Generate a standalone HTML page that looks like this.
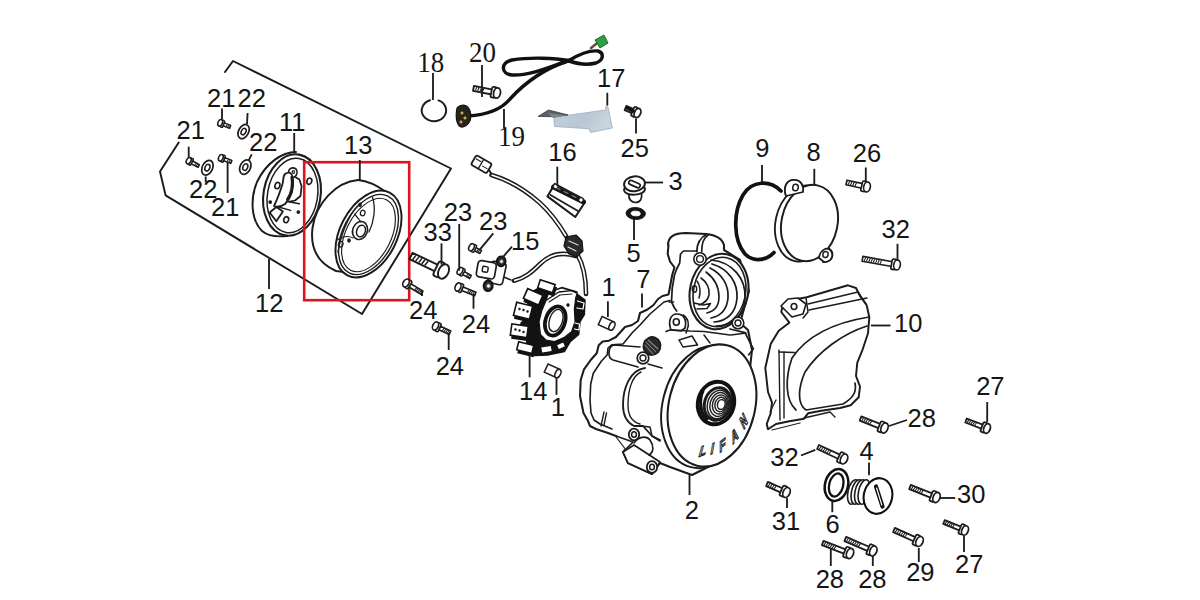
<!DOCTYPE html>
<html><head><meta charset="utf-8"><style>
html,body{margin:0;padding:0;background:#fff;overflow:hidden}
svg{display:block}
</style></head><body>
<svg width="1200" height="600" viewBox="0 0 1200 600">
<rect x="0" y="0" width="1200" height="600" fill="#fff"/>
<path d="M225,72 L233,61 L451,168.5 L362,314 L165.6,195.4 L160,171.5 L178.7,142.5" fill="none" stroke="#1c1c1c" stroke-width="1.95" stroke-linejoin="round" stroke-linecap="round" />
<path d="M230.7,125.4 L223.8,122.6 L222.6,125.5 L229.5,128.4 Z" fill="#fff" stroke="#1c1c1c" stroke-width="1.54" stroke-linejoin="round"/>
<line x1="229.1" y1="125.2" x2="227.6" y2="127.1" stroke="#1c1c1c" stroke-width="1.05"/>
<line x1="227.4" y1="124.5" x2="225.9" y2="126.5" stroke="#1c1c1c" stroke-width="1.05"/>
<rect x="220.8" y="120.1" width="3.0" height="7.1" rx="1.1" transform="rotate(-157.5 222.3 123.7)" fill="#fff" stroke="#1c1c1c" stroke-width="1.54"/>
<ellipse cx="220.2" cy="122.8" rx="2.2" ry="3.4" transform="rotate(-157.5 220.2 122.8)" fill="#fff" stroke="#1c1c1c" stroke-width="1.54"/>
<path d="M199.4,164.6 L192.3,160.8 L190.8,163.6 L198.0,167.4 Z" fill="#fff" stroke="#1c1c1c" stroke-width="1.54" stroke-linejoin="round"/>
<line x1="197.8" y1="164.2" x2="196.2" y2="166.0" stroke="#1c1c1c" stroke-width="1.05"/>
<line x1="196.2" y1="163.3" x2="194.6" y2="165.2" stroke="#1c1c1c" stroke-width="1.05"/>
<rect x="189.2" y="158.2" width="3.0" height="7.1" rx="1.1" transform="rotate(-152.1 190.7 161.7)" fill="#fff" stroke="#1c1c1c" stroke-width="1.54"/>
<ellipse cx="188.7" cy="160.7" rx="2.2" ry="3.4" transform="rotate(-152.1 188.7 160.7)" fill="#fff" stroke="#1c1c1c" stroke-width="1.54"/>
<path d="M231.9,160.4 L224.4,157.5 L223.2,160.5 L230.7,163.4 Z" fill="#fff" stroke="#1c1c1c" stroke-width="1.54" stroke-linejoin="round"/>
<line x1="230.2" y1="160.2" x2="228.8" y2="162.2" stroke="#1c1c1c" stroke-width="1.05"/>
<line x1="228.6" y1="159.5" x2="227.1" y2="161.5" stroke="#1c1c1c" stroke-width="1.05"/>
<rect x="221.4" y="155.1" width="3.0" height="7.1" rx="1.1" transform="rotate(-158.7 222.9 158.6)" fill="#fff" stroke="#1c1c1c" stroke-width="1.54"/>
<ellipse cx="220.8" cy="157.8" rx="2.2" ry="3.4" transform="rotate(-158.7 220.8 157.8)" fill="#fff" stroke="#1c1c1c" stroke-width="1.54"/>
<ellipse cx="243.6" cy="131.6" rx="5.0" ry="7.6" transform="rotate(28 243.6 131.6)" fill="#fff" stroke="#1c1c1c" stroke-width="1.72"/>
<ellipse cx="243.6" cy="131.6" rx="2.25" ry="3.42" transform="rotate(28 243.6 131.6)" fill="none" stroke="#1c1c1c" stroke-width="1.49"/>
<ellipse cx="207.4" cy="167.7" rx="5.2" ry="7.8" transform="rotate(25 207.4 167.7)" fill="#fff" stroke="#1c1c1c" stroke-width="1.72"/>
<ellipse cx="207.4" cy="167.7" rx="2.3400000000000003" ry="3.51" transform="rotate(25 207.4 167.7)" fill="none" stroke="#1c1c1c" stroke-width="1.49"/>
<ellipse cx="245.3" cy="167.1" rx="5.2" ry="7.6" transform="rotate(25 245.3 167.1)" fill="#fff" stroke="#1c1c1c" stroke-width="1.72"/>
<ellipse cx="245.3" cy="167.1" rx="2.3400000000000003" ry="3.42" transform="rotate(25 245.3 167.1)" fill="none" stroke="#1c1c1c" stroke-width="1.49"/>
<path d="M296,152 C282,152 266,163 257,182 C250,199 251,220 262,231 C268,236 278,237 287,236" fill="#fff" stroke="#1c1c1c" stroke-width="1.95" stroke-linejoin="round" stroke-linecap="round" />
<ellipse cx="292" cy="195" rx="28.5" ry="41" transform="rotate(10 292 195)" fill="#fff" stroke="#1c1c1c" stroke-width="2.07"/>
<ellipse cx="292.5" cy="195.5" rx="25" ry="37.5" transform="rotate(10 292.5 195.5)" fill="none" stroke="#1c1c1c" stroke-width="1.49"/>
<path d="M293.9,176.3 L299.4,179.6 L301.6,186.2 L300.5,196 L295,200.5 L289.5,201.6" fill="#fff" stroke="#1c1c1c" stroke-width="1.72" stroke-linejoin="round" stroke-linecap="round" />
<path d="M290,174 C286,170 292,166 296,169 C298,172 297,176 294,177" fill="#fff" stroke="#1c1c1c" stroke-width="1.61" stroke-linejoin="round" stroke-linecap="round" />
<ellipse cx="293.3" cy="172" rx="1.2" ry="1.4" transform="rotate(0 293.3 172)" fill="none" stroke="#1c1c1c" stroke-width="1.15"/>
<path d="M285,174 C289,171 292,173 293,178 C294,188 292,197 285,204 C281,207 276,207 274,206 C277,200 280,192 282.5,184 C283.5,180 283,176 285,174 Z" fill="#fff" stroke="#1c1c1c" stroke-width="1.84" stroke-linejoin="round" stroke-linecap="round" />
<path d="M291.7,177 C293,186 291,194 287.3,199.4" fill="none" stroke="#1c1c1c" stroke-width="2.53" stroke-linejoin="round" stroke-linecap="round" />
<path d="M269.7,212.5 L276.3,207 L282.9,211.5 L276.3,221.3 Z" fill="#fff" stroke="#1c1c1c" stroke-width="1.84" stroke-linejoin="round" stroke-linecap="round" />
<path d="M278.5,207 L290.6,210.4 M287.3,201.6 L299.4,203.8" fill="none" stroke="#1c1c1c" stroke-width="1.49" stroke-linejoin="round" stroke-linecap="round" />
<ellipse cx="277.4" cy="185.6" rx="2.4" ry="3.2" transform="rotate(20 277.4 185.6)" fill="none" stroke="#1c1c1c" stroke-width="1.61"/>
<ellipse cx="286.2" cy="219.7" rx="2.4" ry="3.0" transform="rotate(20 286.2 219.7)" fill="none" stroke="#1c1c1c" stroke-width="1.61"/>
<ellipse cx="309.3" cy="181.2" rx="2.4" ry="3.2" transform="rotate(20 309.3 181.2)" fill="none" stroke="#1c1c1c" stroke-width="1.61"/>
<ellipse cx="270.2" cy="202.1" rx="1.3" ry="1.3" transform="rotate(0 270.2 202.1)" fill="#1c1c1c" stroke="#1c1c1c" stroke-width="1.15"/>
<ellipse cx="298.3" cy="212" rx="1.3" ry="1.3" transform="rotate(0 298.3 212)" fill="#1c1c1c" stroke="#1c1c1c" stroke-width="1.15"/>
<path d="M358,180 C336,182 316,203 312.5,228 C310,248 318,263 336,271 L352,273" fill="#fff" stroke="#1c1c1c" stroke-width="1.95" stroke-linejoin="round" stroke-linecap="round" />
<path d="M358,180 C368,181 378,186 386,192" fill="none" stroke="#1c1c1c" stroke-width="1.84" stroke-linejoin="round" stroke-linecap="round" />
<ellipse cx="368.5" cy="234" rx="28.5" ry="46.5" transform="rotate(27 368.5 234)" fill="#fff" stroke="#1c1c1c" stroke-width="1.95"/>
<ellipse cx="368.5" cy="234.5" rx="25.5" ry="43" transform="rotate(27 368.5 234.5)" fill="none" stroke="#1c1c1c" stroke-width="1.38"/>
<ellipse cx="368.5" cy="235" rx="22.5" ry="39.5" transform="rotate(27 368.5 235)" fill="none" stroke="#1c1c1c" stroke-width="1.15"/>
<path d="M361,203 C352,210 342,228 338,252" fill="none" stroke="#1c1c1c" stroke-width="1.38" stroke-linejoin="round" stroke-linecap="round" />
<path d="M372.5,197.5 C376,208 374,222 369,232" fill="none" stroke="#1c1c1c" stroke-width="1.26" stroke-linejoin="round" stroke-linecap="round" />
<ellipse cx="360" cy="230.5" rx="7.3" ry="9.2" transform="rotate(20 360 230.5)" fill="#fff" stroke="#1c1c1c" stroke-width="1.61"/>
<ellipse cx="361" cy="231" rx="4.3" ry="6" transform="rotate(20 361 231)" fill="none" stroke="#1c1c1c" stroke-width="1.49"/>
<ellipse cx="362.7" cy="213" rx="2.3" ry="2.8" transform="rotate(15 362.7 213)" fill="none" stroke="#1c1c1c" stroke-width="1.26"/>
<ellipse cx="340.7" cy="244.2" rx="2.3" ry="2.8" transform="rotate(15 340.7 244.2)" fill="none" stroke="#1c1c1c" stroke-width="1.26"/>
<ellipse cx="360" cy="204.8" rx="1.4" ry="1.8" transform="rotate(0 360 204.8)" fill="#1c1c1c" stroke="#1c1c1c" stroke-width="0.92"/>
<ellipse cx="349" cy="240.5" rx="1.4" ry="1.8" transform="rotate(0 349 240.5)" fill="#1c1c1c" stroke="#1c1c1c" stroke-width="0.92"/>
<path d="M354.5,214 C358,218 360,221 361,222" fill="none" stroke="#1c1c1c" stroke-width="1.15" stroke-linejoin="round" stroke-linecap="round" />
<path d="M337,240 C343,236 349,236 353,238" fill="none" stroke="#1c1c1c" stroke-width="1.15" stroke-linejoin="round" stroke-linecap="round" />
<rect x="304.2" y="162.2" width="105" height="138" fill="none" stroke="#d8161c" stroke-width="2.6"/>
<path d="M430,100.2 A12.2,10.8 0 1 0 438.5,100.4" fill="none" stroke="#1c1c1c" stroke-width="1.95" stroke-linejoin="round" stroke-linecap="round" />
<path d="M473.0,90.8 L491.7,94.5 L492.6,89.6 L474.0,85.8 Z" fill="#fff" stroke="#1c1c1c" stroke-width="1.79" stroke-linejoin="round"/>
<line x1="475.3" y1="90.6" x2="476.8" y2="87.0" stroke="#1c1c1c" stroke-width="1.05"/>
<line x1="477.6" y1="91.0" x2="479.2" y2="87.5" stroke="#1c1c1c" stroke-width="1.05"/>
<line x1="480.0" y1="91.5" x2="481.5" y2="88.0" stroke="#1c1c1c" stroke-width="1.05"/>
<line x1="482.3" y1="92.0" x2="483.9" y2="88.5" stroke="#1c1c1c" stroke-width="1.05"/>
<rect x="491.3" y="86.9" width="4.6" height="10.8" rx="1.6" transform="rotate(11.3 493.7 92.3)" fill="#fff" stroke="#1c1c1c" stroke-width="1.79"/>
<ellipse cx="497.0" cy="93.0" rx="3.4" ry="5.2" transform="rotate(11.3 497.0 93.0)" fill="#fff" stroke="#1c1c1c" stroke-width="1.79"/>
<path d="M468,116 C485,115 500,111 510,99 C520,88 540,70 569,60.5" fill="none" stroke="#111" stroke-width="3.45" stroke-linejoin="round" stroke-linecap="round" />
<path d="M569,60.5 C555,58 530,57 512,60 C500,63 501,74 512,75 C530,76 552,66 569,60.5" fill="none" stroke="#111" stroke-width="3.45" stroke-linejoin="round" stroke-linecap="round" />
<path d="M569,60.5 C578,55 588,50 598,51 C604,53 604,60 596,63 C585,66 575,63 569,61" fill="none" stroke="#111" stroke-width="3.45" stroke-linejoin="round" stroke-linecap="round" />
<path d="M591,48 L601,40" fill="none" stroke="#6b4a3a" stroke-width="2.53" stroke-linejoin="round" stroke-linecap="round" />
<path d="M595,40 L604,35 L608,43 L600,48 Z" fill="#2ea043" stroke="#1d6b2a" stroke-width="1"/>
<path d="M457,108 C462,103 468,105 470,111 C472,118 470,125 463,127 C457,128 455,118 457,108 Z" fill="#2a2418" stroke="#111" stroke-width="1.2"/>
<ellipse cx="462" cy="113" rx="1.2" ry="1.2" transform="rotate(0 462 113)" fill="#c9a75a" stroke="#c9a75a" stroke-width="0.69"/>
<ellipse cx="465" cy="118" rx="1.2" ry="1.2" transform="rotate(0 465 118)" fill="#c9a75a" stroke="#c9a75a" stroke-width="0.69"/>
<ellipse cx="461" cy="122" rx="1.2" ry="1.2" transform="rotate(0 461 122)" fill="#c9a75a" stroke="#c9a75a" stroke-width="0.69"/>
<defs><linearGradient id="g17" x1="0" y1="0" x2="1" y2="0.3"><stop offset="0" stop-color="#c4d0dc"/><stop offset="0.6" stop-color="#b9c7d4"/><stop offset="1" stop-color="#c9d4de"/></linearGradient></defs>
<path d="M553.75,117.5 L568,115.25 L605.5,110 L605.9,106.25 L608,107 L612.25,128 L590.5,132.5 L589,128.75 L554.5,126.5 Z" fill="url(#g17)" stroke="#9eacb9" stroke-width="0.8"/>
<path d="M538,116.4 L548.5,110 L568,114.9 L553.75,116.75 Z" fill="#5a5f66" stroke="#3a3f46" stroke-width="0.8"/>
<path d="M548,113 L566,115.5 L553,118 Z" fill="#7d858e"/>
<path d="M624.6,110.1 L632.5,113.3 L634.2,109.2 L626.4,105.9 Z" fill="#fff" stroke="#1c1c1c" stroke-width="1.79" stroke-linejoin="round"/>
<rect x="632.5" y="106.9" width="4.2" height="9.8" rx="1.5" transform="rotate(22.6 634.6 111.8)" fill="#fff" stroke="#1c1c1c" stroke-width="1.79"/>
<ellipse cx="637.5" cy="113.0" rx="3.1" ry="4.8" transform="rotate(22.6 637.5 113.0)" fill="#fff" stroke="#1c1c1c" stroke-width="1.79"/>
<path d="M627,108 L633,111" fill="none" stroke="#111" stroke-width="3.22" stroke-linejoin="round" stroke-linecap="round" />
<path d="M629,193 C628,200 632,202.5 635.5,202.5 C640,202.5 642.5,199 641.5,193" fill="#fff" stroke="#1c1c1c" stroke-width="1.72" stroke-linejoin="round" stroke-linecap="round" />
<ellipse cx="634.5" cy="189.5" rx="10.5" ry="5.2" transform="rotate(-3 634.5 189.5)" fill="#fff" stroke="#1c1c1c" stroke-width="1.84"/>
<ellipse cx="634.5" cy="183.8" rx="10.5" ry="7.4" transform="rotate(-6 634.5 183.8)" fill="#fff" stroke="#1c1c1c" stroke-width="1.95"/>
<rect x="628.5" y="182" width="12" height="4.2" rx="2" transform="rotate(24 634.5 184)" fill="#fff" stroke="#1c1c1c" stroke-width="1.7"/>
<ellipse cx="635.7" cy="213.5" rx="9.7" ry="6.0" transform="rotate(3 635.7 213.5)" fill="#141414" stroke="#141414" stroke-width="0.92"/>
<ellipse cx="635.7" cy="213.5" rx="4.6" ry="2.3" transform="rotate(3 635.7 213.5)" fill="#fff" stroke="#fff" stroke-width="0.92"/>
<path d="M554.7,183.9 L582.6,198.6 L584.9,202.3 L575.3,217 L547.4,196.4 Z" fill="#fff" stroke="#1c1c1c" stroke-width="2.07" stroke-linejoin="round" stroke-linecap="round" />
<path d="M553.5,187 L583.5,202" fill="none" stroke="#161616" stroke-width="4.83" stroke-linejoin="round" stroke-linecap="round" />
<path d="M556,187.5 L560,189.5 M564,191.5 L568,193.5 M572,195.5 L576,197.5" fill="none" stroke="#888" stroke-width="1.03" stroke-linejoin="round" stroke-linecap="round" />
<ellipse cx="555.5" cy="186.5" rx="1.4" ry="1.4" transform="rotate(0 555.5 186.5)" fill="#fff" stroke="#fff" stroke-width="0.57"/>
<ellipse cx="581" cy="200" rx="1.4" ry="1.4" transform="rotate(0 581 200)" fill="#fff" stroke="#fff" stroke-width="0.57"/>
<path d="M550.5,195 L578,211" fill="none" stroke="#1c1c1c" stroke-width="1.72" stroke-linejoin="round" stroke-linecap="round" />
<g transform="rotate(30 481 164)"><rect x="472.5" y="158.5" width="18" height="11" rx="2" fill="#fff" stroke="#1c1c1c" stroke-width="1.8"/><line x1="481" y1="158.5" x2="481" y2="169.5" stroke="#1c1c1c" stroke-width="1.4"/><line x1="474" y1="162" x2="480" y2="162" stroke="#1c1c1c" stroke-width="1.1"/><line x1="483" y1="165" x2="489" y2="165" stroke="#1c1c1c" stroke-width="1.1"/></g>
<path d="M489,170 L492,175" fill="none" stroke="#1c1c1c" stroke-width="1.84" stroke-linejoin="round" stroke-linecap="round" />
<path d="M491.5,175 C505,179 522,187 540,203 C552,214 560,226 566,236" fill="none" stroke="#1c1c1c" stroke-width="4.6" stroke-linecap="round"/>
<path d="M491.5,175 C505,179 522,187 540,203 C552,214 560,226 566,236" fill="none" stroke="#fff" stroke-width="1.7"/>
<path d="M577,254 C582,262 586,272 586,294" fill="none" stroke="#1c1c1c" stroke-width="4.6" stroke-linecap="round"/>
<path d="M577,254 C582,262 586,272 586,294" fill="none" stroke="#fff" stroke-width="1.7"/>
<path d="M514,280.7 C525,278 532,272 540,264 C548,256 560,251 576,256" fill="none" stroke="#1c1c1c" stroke-width="4.6" stroke-linecap="round"/>
<path d="M514,280.7 C525,278 532,272 540,264 C548,256 560,251 576,256" fill="none" stroke="#fff" stroke-width="1.7"/>
<path d="M566,237 L576,235 L582,241 L583,251 L576,257 L569,254 L564,246 Z" fill="#2a2a2a" stroke="#111" stroke-width="1.2" stroke-linejoin="round"/>
<path d="M569,241 L578,245 M568,247 L576,251" fill="none" stroke="#ddd" stroke-width="1.15" stroke-linejoin="round" stroke-linecap="round" />
<path d="M503.3,276.7 L511,280" fill="none" stroke="#1c1c1c" stroke-width="1.49" stroke-linejoin="round" stroke-linecap="round" />
<rect x="489.5" y="262" width="15" height="22" rx="3" transform="rotate(12 497 273)" fill="#fff" stroke="#1c1c1c" stroke-width="1.6"/>
<ellipse cx="501.2" cy="261.3" rx="4.4" ry="5" transform="rotate(10 501.2 261.3)" fill="#2a2a2a" stroke="#111" stroke-width="1.84"/>
<ellipse cx="501.5" cy="261.5" rx="1.6" ry="1.8" transform="rotate(0 501.5 261.5)" fill="#fff" stroke="#777" stroke-width="0.92"/>
<ellipse cx="488.2" cy="285.8" rx="4.6" ry="5.3" transform="rotate(10 488.2 285.8)" fill="#2a2a2a" stroke="#111" stroke-width="1.84"/>
<ellipse cx="488.5" cy="286" rx="1.8" ry="2" transform="rotate(0 488.5 286)" fill="#fff" stroke="#777" stroke-width="0.92"/>
<rect x="477" y="261.5" width="18.5" height="16.5" rx="3.5" transform="rotate(10 486 270)" fill="#fff" stroke="#1c1c1c" stroke-width="1.7"/>
<rect x="482.5" y="266.5" width="5.5" height="5.5" rx="1" transform="rotate(10 485 269)" fill="#fff" stroke="#1c1c1c" stroke-width="1.5"/>
<path d="M471.3,275.5 L464.0,271.3 L462.3,274.3 L469.7,278.5 Z" fill="#fff" stroke="#1c1c1c" stroke-width="1.54" stroke-linejoin="round"/>
<line x1="469.7" y1="275.1" x2="467.9" y2="277.0" stroke="#1c1c1c" stroke-width="1.05"/>
<line x1="468.2" y1="274.2" x2="466.4" y2="276.1" stroke="#1c1c1c" stroke-width="1.05"/>
<rect x="460.5" y="268.3" width="3.4" height="7.8" rx="1.2" transform="rotate(-150.3 462.2 272.2)" fill="#fff" stroke="#1c1c1c" stroke-width="1.54"/>
<ellipse cx="460.0" cy="271.0" rx="2.5" ry="3.8" transform="rotate(-150.3 460.0 271.0)" fill="#fff" stroke="#1c1c1c" stroke-width="1.54"/>
<path d="M481.5,250.5 L475.5,247.4 L473.9,250.5 L479.9,253.5 Z" fill="#fff" stroke="#1c1c1c" stroke-width="1.54" stroke-linejoin="round"/>
<line x1="479.8" y1="250.1" x2="478.1" y2="252.1" stroke="#1c1c1c" stroke-width="1.05"/>
<line x1="478.2" y1="249.3" x2="476.5" y2="251.3" stroke="#1c1c1c" stroke-width="1.05"/>
<rect x="472.0" y="244.5" width="3.4" height="7.8" rx="1.2" transform="rotate(-152.9 473.7 248.4)" fill="#fff" stroke="#1c1c1c" stroke-width="1.54"/>
<ellipse cx="471.5" cy="247.3" rx="2.5" ry="3.8" transform="rotate(-152.9 471.5 247.3)" fill="#fff" stroke="#1c1c1c" stroke-width="1.54"/>
<path d="M409.5,259.2 L435.5,271.6 L438.5,265.2 L412.5,252.8 Z" fill="#fff" stroke="#1c1c1c" stroke-width="1.92" stroke-linejoin="round"/>
<line x1="412.6" y1="259.7" x2="415.9" y2="255.4" stroke="#1c1c1c" stroke-width="1.5"/>
<line x1="415.6" y1="261.1" x2="419.0" y2="256.9" stroke="#1c1c1c" stroke-width="1.5"/>
<line x1="418.7" y1="262.6" x2="422.0" y2="258.3" stroke="#1c1c1c" stroke-width="1.5"/>
<line x1="421.7" y1="264.0" x2="425.0" y2="259.8" stroke="#1c1c1c" stroke-width="1.5"/>
<line x1="424.7" y1="265.5" x2="428.1" y2="261.2" stroke="#1c1c1c" stroke-width="1.5"/>
<rect x="435.7" y="261.5" width="6.7" height="15.7" rx="2.4" transform="rotate(25.5 439.0 269.4)" fill="#fff" stroke="#1c1c1c" stroke-width="1.92"/>
<ellipse cx="443.5" cy="271.5" rx="5.0" ry="7.6" transform="rotate(25.5 443.5 271.5)" fill="#fff" stroke="#1c1c1c" stroke-width="1.92"/>
<path d="M423.0,291.1 L410.4,283.5 L408.5,286.7 L421.0,294.3 Z" fill="#fff" stroke="#1c1c1c" stroke-width="1.66" stroke-linejoin="round"/>
<line x1="421.3" y1="290.6" x2="419.3" y2="292.7" stroke="#1c1c1c" stroke-width="1.05"/>
<line x1="419.8" y1="289.7" x2="417.8" y2="291.8" stroke="#1c1c1c" stroke-width="1.05"/>
<line x1="418.2" y1="288.7" x2="416.2" y2="290.8" stroke="#1c1c1c" stroke-width="1.05"/>
<line x1="416.7" y1="287.8" x2="414.6" y2="289.9" stroke="#1c1c1c" stroke-width="1.05"/>
<rect x="406.5" y="280.0" width="3.8" height="8.8" rx="1.3" transform="rotate(-148.8 408.4 284.4)" fill="#fff" stroke="#1c1c1c" stroke-width="1.66"/>
<ellipse cx="406.0" cy="283.0" rx="2.8" ry="4.3" transform="rotate(-148.8 406.0 283.0)" fill="#fff" stroke="#1c1c1c" stroke-width="1.66"/>
<path d="M476.0,292.2 L462.5,286.8 L461.0,290.3 L474.6,295.8 Z" fill="#fff" stroke="#1c1c1c" stroke-width="1.66" stroke-linejoin="round"/>
<line x1="474.3" y1="292.1" x2="472.7" y2="294.5" stroke="#1c1c1c" stroke-width="1.05"/>
<line x1="472.6" y1="291.4" x2="471.0" y2="293.8" stroke="#1c1c1c" stroke-width="1.05"/>
<line x1="470.9" y1="290.7" x2="469.3" y2="293.1" stroke="#1c1c1c" stroke-width="1.05"/>
<line x1="469.2" y1="290.0" x2="467.6" y2="292.4" stroke="#1c1c1c" stroke-width="1.05"/>
<rect x="458.7" y="283.6" width="3.8" height="8.8" rx="1.3" transform="rotate(-158.0 460.6 288.0)" fill="#fff" stroke="#1c1c1c" stroke-width="1.66"/>
<ellipse cx="458.0" cy="287.0" rx="2.8" ry="4.3" transform="rotate(-158.0 458.0 287.0)" fill="#fff" stroke="#1c1c1c" stroke-width="1.66"/>
<path d="M450.8,331.0 L440.0,326.0 L438.4,329.4 L449.2,334.4 Z" fill="#fff" stroke="#1c1c1c" stroke-width="1.66" stroke-linejoin="round"/>
<line x1="449.1" y1="330.7" x2="447.3" y2="333.0" stroke="#1c1c1c" stroke-width="1.05"/>
<line x1="447.5" y1="330.0" x2="445.7" y2="332.3" stroke="#1c1c1c" stroke-width="1.05"/>
<line x1="445.8" y1="329.2" x2="444.0" y2="331.5" stroke="#1c1c1c" stroke-width="1.05"/>
<line x1="444.1" y1="328.4" x2="442.4" y2="330.7" stroke="#1c1c1c" stroke-width="1.05"/>
<rect x="436.1" y="322.8" width="3.8" height="8.8" rx="1.3" transform="rotate(-155.2 438.0 327.2)" fill="#fff" stroke="#1c1c1c" stroke-width="1.66"/>
<ellipse cx="435.5" cy="326.0" rx="2.8" ry="4.3" transform="rotate(-155.2 435.5 326.0)" fill="#fff" stroke="#1c1c1c" stroke-width="1.66"/>
<path d="M530,293 L541,287 L549,291 L546,300 L541,310 L539,322 L541,335 L547,341 L556,342 L565,337 L572,332 L575,322 L575,309 L577,294 L585,300 L584.3,314.7 L580,321.7 L578.7,334.5 L570.2,341.6 L564.5,351.5 L547.5,355 L535,355.5 L524,352 L527,341 L521,337 L521,323 L527,318 L528,304 Z" fill="#121212" stroke="#121212" stroke-width="1.5" stroke-linejoin="round"/>
<path d="M546,300.5 L558.8,292 L571.6,290.6 L577.2,293.4 L575.8,297.7 L574.4,309 L575.1,321.7 L571.6,331.7 L564.5,337.3 L554.6,341.6 L546,340.2 L540.4,334.5 L539,321.7 L541.8,310.4 Z" fill="#fff" stroke="#121212" stroke-width="1.3" stroke-linejoin="round"/>
<path d="M549,302 L560,295 L572,294" fill="none" stroke="#1c1c1c" stroke-width="1.15" stroke-linejoin="round" stroke-linecap="round" />
<path d="M552,291 L561.7,287.7 L577,292" fill="none" stroke="#121212" stroke-width="1.72" stroke-linejoin="round" stroke-linecap="round" />
<ellipse cx="555.3" cy="321" rx="9.8" ry="15" transform="rotate(18 555.3 321)" fill="#fff" stroke="#121212" stroke-width="3.68"/>
<ellipse cx="556" cy="320.5" rx="6.5" ry="11.5" transform="rotate(18 556 320.5)" fill="none" stroke="#1c1c1c" stroke-width="1.38"/>
<ellipse cx="568" cy="305" rx="1.3" ry="1.5" transform="rotate(0 568 305)" fill="#121212" stroke="#1c1c1c" stroke-width="0.69"/>
<rect x="540.6" y="284.5" width="15.6" height="8.5" transform="rotate(18 546.4 286.2)" fill="#121212" stroke="#121212" stroke-width="1.4"/>
<rect x="538.6" y="282" width="15.6" height="8.5" transform="rotate(18 546.4 286.2)" fill="#fff" stroke="#121212" stroke-width="1.6"/>
<rect x="526.8" y="294.0" width="16.6" height="10.7" transform="rotate(24 533.1 296.9)" fill="#121212" stroke="#121212" stroke-width="1.4"/>
<rect x="524.8" y="291.5" width="16.6" height="10.7" transform="rotate(24 533.1 296.9)" fill="#fff" stroke="#121212" stroke-width="1.6"/>
<rect x="516.8" y="306.5" width="16.5" height="13.5" transform="rotate(14 523.0 310.8)" fill="#121212" stroke="#121212" stroke-width="1.4"/>
<rect x="514.8" y="304" width="16.5" height="13.5" transform="rotate(14 523.0 310.8)" fill="#fff" stroke="#121212" stroke-width="1.6"/>
<rect x="513" y="327.5" width="16.6" height="11.5" transform="rotate(8 519.3 330.8)" fill="#121212" stroke="#121212" stroke-width="1.4"/>
<rect x="511" y="325" width="16.6" height="11.5" transform="rotate(8 519.3 330.8)" fill="#fff" stroke="#121212" stroke-width="1.6"/>
<rect x="519.5" y="346.0" width="15.5" height="8.2" transform="rotate(14 525.2 347.6)" fill="#121212" stroke="#121212" stroke-width="1.4"/>
<rect x="517.5" y="343.5" width="15.5" height="8.2" transform="rotate(14 525.2 347.6)" fill="#fff" stroke="#121212" stroke-width="1.6"/>
<ellipse cx="519.5" cy="309" rx="1.0" ry="1.0" transform="rotate(0 519.5 309)" fill="#121212" stroke="#1c1c1c" stroke-width="0.57"/>
<ellipse cx="523.5" cy="310" rx="1.0" ry="1.0" transform="rotate(0 523.5 310)" fill="#121212" stroke="#1c1c1c" stroke-width="0.57"/>
<ellipse cx="527.5" cy="311.5" rx="1.0" ry="1.0" transform="rotate(0 527.5 311.5)" fill="#121212" stroke="#1c1c1c" stroke-width="0.57"/>
<ellipse cx="515.5" cy="329.5" rx="1.0" ry="1.0" transform="rotate(0 515.5 329.5)" fill="#121212" stroke="#1c1c1c" stroke-width="0.57"/>
<ellipse cx="519.5" cy="330.5" rx="1.0" ry="1.0" transform="rotate(0 519.5 330.5)" fill="#121212" stroke="#1c1c1c" stroke-width="0.57"/>
<ellipse cx="523.5" cy="332" rx="1.0" ry="1.0" transform="rotate(0 523.5 332)" fill="#121212" stroke="#1c1c1c" stroke-width="0.57"/>
<rect x="541" y="346" width="11" height="6.5" transform="rotate(-10 546.5 349.25)" fill="#fff" stroke="#121212" stroke-width="1.4"/>
<rect x="557" y="343" width="8" height="5.5" transform="rotate(-25 561.0 345.75)" fill="#fff" stroke="#121212" stroke-width="1.4"/>
<path d="M577.5,301 L584,303 L583,309 L577,308" fill="none" stroke="#fff" stroke-width="1.26" stroke-linejoin="round" stroke-linecap="round" />
<path d="M575,323 L579.5,324 L579,330 L574.5,329" fill="none" stroke="#fff" stroke-width="1.26" stroke-linejoin="round" stroke-linecap="round" />
<g transform="rotate(25 606.5 323.5)"><rect x="599.5" y="319.0" width="13" height="9" fill="#fff" stroke="#1c1c1c" stroke-width="1.5"/><ellipse cx="612.5" cy="323.5" rx="2.6" ry="4.5" fill="#fff" stroke="#1c1c1c" stroke-width="1.5"/></g>
<g transform="rotate(25 552.5 371)"><rect x="545.5" y="366.5" width="13" height="9" fill="#fff" stroke="#1c1c1c" stroke-width="1.5"/><ellipse cx="558.5" cy="371" rx="2.6" ry="4.5" fill="#fff" stroke="#1c1c1c" stroke-width="1.5"/></g>
<path d="M668.5,245 L667.7,254 L670,261.5 L674.5,267.5 L672.2,275 L670,287 L668.5,294.5 L662.5,296 L658,299 L653.5,305 L647.5,309.5 L640,313 L638,321 L632,325 L625,327 L616,337 L609,340.7 L602.7,341.5 L598.7,345.3 L596.7,353.3 L590.7,360 L584,369.3 L580.7,380 L580,396 L583.5,413 L588,421 L590,426 L596,429 L608,433 L616,436 L626,449 L623,452 L628,463 L652,474 L660,463 L670,467 L692,475 L706,468 L725,458 L742,440 L752,350 L748,330 L740,323 L749,291 L740,260 L724,250 L724,245 C722,238 716,235 706,234 L686,233 C676,233 668,236 668,245 Z" fill="#fff" stroke="#1c1c1c" stroke-width="2.07" stroke-linejoin="round" stroke-linecap="round" />
<path d="M697,251 L683.5,251 L680.5,254 L679.7,263 L676.7,269 L674.5,275 L672.2,288.5 L671.5,302 L674.5,308 L676.7,311" fill="none" stroke="#1c1c1c" stroke-width="1.72" stroke-linejoin="round" stroke-linecap="round" />
<path d="M670,300.5 L664,302 L657,308 L650,314 L640,325 L632,333 L623,344 L612,344.7 L608,348 L607.3,354.7 L601.3,361.3 L593.3,373.3 L590.7,384 L590,400 L591,413 L594,420 L600,424 L612,429" fill="none" stroke="#1c1c1c" stroke-width="1.61" stroke-linejoin="round" stroke-linecap="round" />
<path d="M706.7,234.2 C701,237 697,243 696.7,251.7" fill="none" stroke="#1c1c1c" stroke-width="1.72" stroke-linejoin="round" stroke-linecap="round" />
<path d="M708.3,235 C703,238 701.7,244 701.7,251.7" fill="none" stroke="#1c1c1c" stroke-width="1.61" stroke-linejoin="round" stroke-linecap="round" />
<path d="M669,302 L673.7,302" fill="none" stroke="#1c1c1c" stroke-width="1.49" stroke-linejoin="round" stroke-linecap="round" />
<ellipse cx="719" cy="291.5" rx="29" ry="38" transform="rotate(12 719 291.5)" fill="#fff" stroke="#1c1c1c" stroke-width="2.07"/>
<ellipse cx="719.5" cy="292" rx="26" ry="35" transform="rotate(12 719.5 292)" fill="none" stroke="#1c1c1c" stroke-width="1.61"/>
<path d="M711,260 C733,262 746,279 745,298 C744,315 733,326 716,326" fill="none" stroke="#1c1c1c" stroke-width="1.72" stroke-linejoin="round" stroke-linecap="round" />
<path d="M712,264 C729,269 738,283 737,298 C736,312 728,321 714,322" fill="none" stroke="#1c1c1c" stroke-width="1.72" stroke-linejoin="round" stroke-linecap="round" />
<path d="M710,268 C722,274 729,285 728,298 C727,309 721,316 711,318" fill="none" stroke="#1c1c1c" stroke-width="1.72" stroke-linejoin="round" stroke-linecap="round" />
<path d="M706,272 C714,278 719,287 719,297 C719,305 715,311 707,313" fill="none" stroke="#1c1c1c" stroke-width="1.61" stroke-linejoin="round" stroke-linecap="round" />
<path d="M701,278 C707,282 710,289 709,295 C708,300 705,303 699,305" fill="none" stroke="#1c1c1c" stroke-width="1.61" stroke-linejoin="round" stroke-linecap="round" />
<path d="M697,281 C700,285 701,292 699,298" fill="none" stroke="#1c1c1c" stroke-width="1.49" stroke-linejoin="round" stroke-linecap="round" />
<ellipse cx="694.5" cy="289" rx="2.2" ry="3.2" transform="rotate(0 694.5 289)" fill="none" stroke="#1c1c1c" stroke-width="1.38"/>
<path d="M694,303 L703,305 L710.5,303.5 L707,308.5 L697,309" fill="none" stroke="#1c1c1c" stroke-width="1.49" stroke-linejoin="round" stroke-linecap="round" />
<ellipse cx="700" cy="259" rx="6.199999999999999" ry="6.199999999999999" transform="rotate(0 700 259)" fill="#fff" stroke="#1c1c1c" stroke-width="1.61"/>
<ellipse cx="700" cy="259" rx="3.4" ry="3.4" transform="rotate(0 700 259)" fill="none" stroke="#1c1c1c" stroke-width="1.38"/>
<ellipse cx="738" cy="323" rx="5.8" ry="5.8" transform="rotate(0 738 323)" fill="#fff" stroke="#1c1c1c" stroke-width="1.61"/>
<ellipse cx="738" cy="323" rx="3" ry="3" transform="rotate(0 738 323)" fill="none" stroke="#1c1c1c" stroke-width="1.38"/>
<path d="M671,330 C668,322 670,314 677,314 C684,314 687,320 685,328 L681,331 Z" fill="#fff" stroke="#1c1c1c" stroke-width="1.72" stroke-linejoin="round" stroke-linecap="round" />
<ellipse cx="676.3" cy="322" rx="3.0" ry="3.3" transform="rotate(0 676.3 322)" fill="none" stroke="#1c1c1c" stroke-width="1.61"/>
<path d="M683,315 C688,318 690,324 687,330 L686,333" fill="none" stroke="#1c1c1c" stroke-width="1.49" stroke-linejoin="round" stroke-linecap="round" />
<path d="M666,331.5 L670.5,329.8 L690,331 L704,331.5 L730,335" fill="none" stroke="#1c1c1c" stroke-width="1.61" stroke-linejoin="round" stroke-linecap="round" />
<path d="M730,329 L745,332.7 L753.3,349 L748.7,354.8" fill="none" stroke="#1c1c1c" stroke-width="1.72" stroke-linejoin="round" stroke-linecap="round" />
<path d="M731,335 L746,333" fill="none" stroke="#1c1c1c" stroke-width="1.38" stroke-linejoin="round" stroke-linecap="round" />
<path d="M704,335 L710,343" fill="none" stroke="#1c1c1c" stroke-width="1.49" stroke-linejoin="round" stroke-linecap="round" />
<path d="M679,340 L692,336 L697.5,345 L683,347 Z" fill="#fff" stroke="#1c1c1c" stroke-width="1.49" stroke-linejoin="round" stroke-linecap="round" />
<path d="M640,347 L614,345 C608,346 607,358 613,360 L638,367" fill="#fff" stroke="#1c1c1c" stroke-width="1.72" stroke-linejoin="round" stroke-linecap="round" />
<ellipse cx="652" cy="346" rx="8.5" ry="9" transform="rotate(20 652 346)" fill="#2a2a2a" stroke="#1c1c1c" stroke-width="1.84"/>
<path d="M646,342 L656,352 M648,340 L658,349 M645,345 L653,354" fill="none" stroke="#888" stroke-width="1.03" stroke-linejoin="round" stroke-linecap="round" />
<ellipse cx="643" cy="358" rx="5.8" ry="5.8" transform="rotate(0 643 358)" fill="#fff" stroke="#1c1c1c" stroke-width="1.72"/>
<ellipse cx="643" cy="358" rx="3" ry="3" transform="rotate(0 643 358)" fill="none" stroke="#1c1c1c" stroke-width="1.38"/>
<path d="M648,364 L662,368" fill="none" stroke="#1c1c1c" stroke-width="1.49" stroke-linejoin="round" stroke-linecap="round" />
<path d="M645,368 C630,370 623,388 623,405 C623,416 628,423 634,426 L643,426 L652,436 L660,440" fill="none" stroke="#1c1c1c" stroke-width="1.84" stroke-linejoin="round" stroke-linecap="round" />
<path d="M641,372 C632,376 628,390 628,405 C628,416 632,422 640,424" fill="none" stroke="#1c1c1c" stroke-width="1.38" stroke-linejoin="round" stroke-linecap="round" />
<path d="M604,412 L601,426 M606.5,413 L604,425" fill="none" stroke="#1c1c1c" stroke-width="1.38" stroke-linejoin="round" stroke-linecap="round" />
<path d="M623,452 L634,445 L660,462 L652,474 L628,463 Z" fill="#fff" stroke="#1c1c1c" stroke-width="1.72" stroke-linejoin="round" stroke-linecap="round" />
<path d="M616,436 L633,442 L626,449" fill="#fff" stroke="#1c1c1c" stroke-width="1.61" stroke-linejoin="round" stroke-linecap="round" />
<path d="M634,443 C638,437 646,435 650,440 C654,446 654,452 649,455" fill="none" stroke="#1c1c1c" stroke-width="1.61" stroke-linejoin="round" stroke-linecap="round" />
<ellipse cx="634" cy="434.5" rx="5.2" ry="5.8" transform="rotate(0 634 434.5)" fill="#fff" stroke="#1c1c1c" stroke-width="1.84"/>
<ellipse cx="634" cy="434.5" rx="2.4" ry="2.8" transform="rotate(0 634 434.5)" fill="none" stroke="#1c1c1c" stroke-width="1.49"/>
<ellipse cx="652" cy="467" rx="5.2" ry="5.8" transform="rotate(0 652 467)" fill="#fff" stroke="#1c1c1c" stroke-width="1.84"/>
<ellipse cx="652" cy="467" rx="2.4" ry="2.8" transform="rotate(0 652 467)" fill="none" stroke="#1c1c1c" stroke-width="1.49"/>
<path d="M641,426 L650,427 L652,436 L660,441" fill="none" stroke="#1c1c1c" stroke-width="1.49" stroke-linejoin="round" stroke-linecap="round" />
<ellipse cx="706" cy="407" rx="43.5" ry="62" transform="rotate(14 706 407)" fill="#fff" stroke="#1c1c1c" stroke-width="1.95"/>
<ellipse cx="712" cy="405.5" rx="43" ry="62" transform="rotate(14 712 405.5)" fill="#fff" stroke="#1c1c1c" stroke-width="2.07"/>
<ellipse cx="716" cy="403" rx="18" ry="21.5" transform="rotate(15 716 403)" fill="#fff" stroke="#111" stroke-width="3.91"/>
<ellipse cx="717.5" cy="404" rx="13" ry="16.5" transform="rotate(15 717.5 404)" fill="#fff" stroke="#1a1a1a" stroke-width="2.99"/>
<ellipse cx="718.5" cy="404.5" rx="11.0" ry="14.5" transform="rotate(15 718.5 404.5)" fill="none" stroke="#222" stroke-width="1.49"/>
<ellipse cx="719.2" cy="404.5" rx="9.2" ry="12.1" transform="rotate(15 719.2 404.5)" fill="none" stroke="#222" stroke-width="1.49"/>
<ellipse cx="719.9" cy="404.5" rx="7.4" ry="9.7" transform="rotate(15 719.9 404.5)" fill="none" stroke="#222" stroke-width="1.49"/>
<ellipse cx="720.6" cy="404.5" rx="5.6" ry="7.300000000000001" transform="rotate(15 720.6 404.5)" fill="none" stroke="#222" stroke-width="1.49"/>
<ellipse cx="721.3" cy="404.5" rx="3.8" ry="4.9" transform="rotate(15 721.3 404.5)" fill="none" stroke="#222" stroke-width="1.49"/>
<path d="M703,391 C699,400 700,413 707,419" fill="none" stroke="#111" stroke-width="2.99" stroke-linejoin="round" stroke-linecap="round" />
<path d="M731,392 C734,400 733,412 727,418" fill="none" stroke="#111" stroke-width="1.84" stroke-linejoin="round" stroke-linecap="round" />
<text x="0" y="0" transform="translate(703,450.5) rotate(-22) skewX(-38)" text-anchor="middle" dominant-baseline="central" font-family='"Liberation Sans", sans-serif' font-weight="bold" font-size="12.5" fill="#fff" stroke="#1c1c1c" stroke-width="1.1">L</text>
<text x="0" y="0" transform="translate(712.5,448.5) rotate(-28) skewX(-38)" text-anchor="middle" dominant-baseline="central" font-family='"Liberation Sans", sans-serif' font-weight="bold" font-size="12.5" fill="#fff" stroke="#1c1c1c" stroke-width="1.1">I</text>
<text x="0" y="0" transform="translate(722.5,445) rotate(-38) skewX(-38)" text-anchor="middle" dominant-baseline="central" font-family='"Liberation Sans", sans-serif' font-weight="bold" font-size="12.5" fill="#fff" stroke="#1c1c1c" stroke-width="1.1">F</text>
<text x="0" y="0" transform="translate(734.5,435.5) rotate(-50) skewX(-38)" text-anchor="middle" dominant-baseline="central" font-family='"Liberation Sans", sans-serif' font-weight="bold" font-size="12.5" fill="#fff" stroke="#1c1c1c" stroke-width="1.1">A</text>
<text x="0" y="0" transform="translate(743.5,421) rotate(-62) skewX(-38)" text-anchor="middle" dominant-baseline="central" font-family='"Liberation Sans", sans-serif' font-weight="bold" font-size="12.5" fill="#fff" stroke="#1c1c1c" stroke-width="1.1">N</text>
<path d="M781,191 C770,180 752,180 743,195 C733,212 733,240 745,254 C754,263 767,260 774,252.5" fill="none" stroke="#111" stroke-width="3.68" stroke-linejoin="round" stroke-linecap="round" />
<ellipse cx="803" cy="223.5" rx="27.5" ry="38.5" transform="rotate(12 803 223.5)" fill="#fff" stroke="#1c1c1c" stroke-width="1.84"/>
<path d="M786,196 C783,186 787,180 794,180 C801,180 804,186 803,192" fill="#fff" stroke="#1c1c1c" stroke-width="1.84" stroke-linejoin="round" stroke-linecap="round" />
<path d="M820,255 C822,248 829,246 832,252 C834,258 829,263 823,262" fill="#fff" stroke="#1c1c1c" stroke-width="1.84" stroke-linejoin="round" stroke-linecap="round" />
<ellipse cx="809.5" cy="223" rx="28" ry="38.5" transform="rotate(12 809.5 223)" fill="#fff" stroke="#1c1c1c" stroke-width="1.95"/>
<path d="M786,196 C783,186 787,180 794,180 C801,180 804,186 803,192 Z" fill="#fff" stroke="#1c1c1c" stroke-width="1.72" stroke-linejoin="round" stroke-linecap="round" />
<ellipse cx="795.5" cy="187.5" rx="2.8" ry="3.3" transform="rotate(10 795.5 187.5)" fill="none" stroke="#1c1c1c" stroke-width="1.49"/>
<path d="M819,258 C820,250 827,246 831,251 C834,256 831,262 824,262 Z" fill="#fff" stroke="#1c1c1c" stroke-width="1.72" stroke-linejoin="round" stroke-linecap="round" />
<ellipse cx="825.5" cy="254.5" rx="2.6" ry="3.1" transform="rotate(10 825.5 254.5)" fill="none" stroke="#1c1c1c" stroke-width="1.49"/>
<path d="M846.0,184.8 L861.8,188.3 L862.9,183.6 L847.0,180.2 Z" fill="#fff" stroke="#1c1c1c" stroke-width="1.66" stroke-linejoin="round"/>
<line x1="848.1" y1="184.7" x2="849.7" y2="181.4" stroke="#1c1c1c" stroke-width="1.05"/>
<line x1="850.4" y1="185.2" x2="851.9" y2="181.9" stroke="#1c1c1c" stroke-width="1.05"/>
<line x1="852.6" y1="185.7" x2="854.2" y2="182.3" stroke="#1c1c1c" stroke-width="1.05"/>
<line x1="854.9" y1="186.2" x2="856.5" y2="182.8" stroke="#1c1c1c" stroke-width="1.05"/>
<rect x="861.6" y="181.1" width="4.5" height="10.4" rx="1.6" transform="rotate(12.4 863.8 186.3)" fill="#fff" stroke="#1c1c1c" stroke-width="1.66"/>
<ellipse cx="867.0" cy="187.0" rx="3.3" ry="5.0" transform="rotate(12.4 867.0 187.0)" fill="#fff" stroke="#1c1c1c" stroke-width="1.66"/>
<path d="M862.1,261.2 L891.9,266.5 L892.7,261.8 L862.9,256.4 Z" fill="#fff" stroke="#1c1c1c" stroke-width="1.66" stroke-linejoin="round"/>
<line x1="864.2" y1="260.9" x2="865.7" y2="257.5" stroke="#1c1c1c" stroke-width="1.05"/>
<line x1="866.5" y1="261.3" x2="867.9" y2="257.9" stroke="#1c1c1c" stroke-width="1.05"/>
<line x1="868.8" y1="261.8" x2="870.2" y2="258.4" stroke="#1c1c1c" stroke-width="1.05"/>
<line x1="871.0" y1="262.2" x2="872.5" y2="258.8" stroke="#1c1c1c" stroke-width="1.05"/>
<line x1="873.3" y1="262.6" x2="874.7" y2="259.2" stroke="#1c1c1c" stroke-width="1.05"/>
<line x1="875.6" y1="263.0" x2="877.0" y2="259.6" stroke="#1c1c1c" stroke-width="1.05"/>
<line x1="877.8" y1="263.4" x2="879.3" y2="260.0" stroke="#1c1c1c" stroke-width="1.05"/>
<line x1="880.1" y1="263.8" x2="881.5" y2="260.4" stroke="#1c1c1c" stroke-width="1.05"/>
<rect x="891.5" y="259.2" width="4.5" height="10.4" rx="1.6" transform="rotate(10.2 893.8 264.4)" fill="#fff" stroke="#1c1c1c" stroke-width="1.66"/>
<ellipse cx="897.0" cy="265.0" rx="3.3" ry="5.0" transform="rotate(10.2 897.0 265.0)" fill="#fff" stroke="#1c1c1c" stroke-width="1.66"/>
<path d="M806.7,297.3 L848,285.3 L856,288 L860,296 L866.7,305.3 L869.3,317.3 L868,333.3 L862.7,349.3 L857.3,362.7 L856,376 L860,386.7 L858.7,397.3 L850.7,405.3 L840,408 L821.3,410.7 L808,413.3 L804,418.7 L789.3,421.3 L776,424 L768,429.3 L766.7,424 L770.7,413.3 L772,402.7 L768,392 L765.3,368 L770.7,344 L778.7,330.7 L789.3,322.7 L781.3,312 L782.7,305.3 L792,300 Z" fill="#fff" stroke="#1c1c1c" stroke-width="1.95" stroke-linejoin="round" stroke-linecap="round" />
<path d="M808,304 L858,292 L866,304" fill="none" stroke="#1c1c1c" stroke-width="1.49" stroke-linejoin="round" stroke-linecap="round" />
<path d="M809,310 L867,298" fill="none" stroke="#1c1c1c" stroke-width="1.38" stroke-linejoin="round" stroke-linecap="round" />
<path d="M806,298 L808,312 L803,318" fill="none" stroke="#1c1c1c" stroke-width="1.49" stroke-linejoin="round" stroke-linecap="round" />
<path d="M781,306 L788,299 L798,298 L806,304 L803,314 L792,317 Z" fill="#fff" stroke="#1c1c1c" stroke-width="1.61" stroke-linejoin="round" stroke-linecap="round" />
<ellipse cx="794" cy="306.5" rx="2.8" ry="3" transform="rotate(0 794 306.5)" fill="none" stroke="#1c1c1c" stroke-width="1.61"/>
<path d="M869,317 C838,322 808,334 792,358 C785,378 785,400 796,410" fill="none" stroke="#1c1c1c" stroke-width="1.72" stroke-linejoin="round" stroke-linecap="round" />
<path d="M867,326 C842,334 818,352 805,372 C798,388 797,404 806,410 L843,404 C853,398 857,392 855,383" fill="none" stroke="#1c1c1c" stroke-width="1.72" stroke-linejoin="round" stroke-linecap="round" />
<path d="M779,352 L795,352.5" fill="none" stroke="#1c1c1c" stroke-width="1.61" stroke-linejoin="round" stroke-linecap="round" />
<path d="M779,350 L780,420 M784,352 L784,418" fill="none" stroke="#1c1c1c" stroke-width="1.38" stroke-linejoin="round" stroke-linecap="round" />
<path d="M776,400 L770,412" fill="none" stroke="#1c1c1c" stroke-width="1.26" stroke-linejoin="round" stroke-linecap="round" />
<path d="M804,418 L830,412 L835,417" fill="none" stroke="#1c1c1c" stroke-width="1.38" stroke-linejoin="round" stroke-linecap="round" />
<path d="M772,430 L800,423" fill="none" stroke="#1c1c1c" stroke-width="1.26" stroke-linejoin="round" stroke-linecap="round" />
<path d="M859.7,420.6 L879.1,428.3 L880.7,424.1 L861.3,416.4 Z" fill="#fff" stroke="#1c1c1c" stroke-width="1.79" stroke-linejoin="round"/>
<line x1="861.7" y1="420.8" x2="863.6" y2="417.9" stroke="#1c1c1c" stroke-width="1.05"/>
<line x1="863.7" y1="421.6" x2="865.6" y2="418.7" stroke="#1c1c1c" stroke-width="1.05"/>
<line x1="865.7" y1="422.4" x2="867.6" y2="419.5" stroke="#1c1c1c" stroke-width="1.05"/>
<line x1="867.7" y1="423.2" x2="869.7" y2="420.3" stroke="#1c1c1c" stroke-width="1.05"/>
<line x1="869.7" y1="424.0" x2="871.7" y2="421.1" stroke="#1c1c1c" stroke-width="1.05"/>
<rect x="879.0" y="421.4" width="4.6" height="10.8" rx="1.6" transform="rotate(21.6 881.3 426.7)" fill="#fff" stroke="#1c1c1c" stroke-width="1.79"/>
<ellipse cx="884.5" cy="428.0" rx="3.4" ry="5.2" transform="rotate(21.6 884.5 428.0)" fill="#fff" stroke="#1c1c1c" stroke-width="1.79"/>
<path d="M965.3,422.5 L981.9,428.8 L983.4,424.9 L966.7,418.5 Z" fill="#fff" stroke="#1c1c1c" stroke-width="1.79" stroke-linejoin="round"/>
<line x1="967.1" y1="422.6" x2="968.9" y2="419.9" stroke="#1c1c1c" stroke-width="1.05"/>
<line x1="969.0" y1="423.3" x2="970.8" y2="420.6" stroke="#1c1c1c" stroke-width="1.05"/>
<line x1="970.9" y1="424.1" x2="972.7" y2="421.4" stroke="#1c1c1c" stroke-width="1.05"/>
<line x1="972.8" y1="424.8" x2="974.6" y2="422.1" stroke="#1c1c1c" stroke-width="1.05"/>
<line x1="974.7" y1="425.5" x2="976.5" y2="422.8" stroke="#1c1c1c" stroke-width="1.05"/>
<rect x="981.8" y="422.3" width="4.4" height="10.2" rx="1.6" transform="rotate(20.9 984.0 427.4)" fill="#fff" stroke="#1c1c1c" stroke-width="1.79"/>
<ellipse cx="987.0" cy="428.5" rx="3.2" ry="4.9" transform="rotate(20.9 987.0 428.5)" fill="#fff" stroke="#1c1c1c" stroke-width="1.79"/>
<path d="M817.1,449.0 L838.6,459.0 L840.4,454.9 L818.9,445.0 Z" fill="#fff" stroke="#1c1c1c" stroke-width="1.79" stroke-linejoin="round"/>
<line x1="819.1" y1="449.3" x2="821.2" y2="446.6" stroke="#1c1c1c" stroke-width="1.05"/>
<line x1="821.0" y1="450.3" x2="823.1" y2="447.5" stroke="#1c1c1c" stroke-width="1.05"/>
<line x1="823.0" y1="451.2" x2="825.1" y2="448.4" stroke="#1c1c1c" stroke-width="1.05"/>
<line x1="824.9" y1="452.1" x2="827.0" y2="449.3" stroke="#1c1c1c" stroke-width="1.05"/>
<line x1="826.9" y1="453.0" x2="829.0" y2="450.2" stroke="#1c1c1c" stroke-width="1.05"/>
<line x1="828.9" y1="453.9" x2="831.0" y2="451.1" stroke="#1c1c1c" stroke-width="1.05"/>
<rect x="838.6" y="452.2" width="4.6" height="10.8" rx="1.6" transform="rotate(24.8 840.9 457.6)" fill="#fff" stroke="#1c1c1c" stroke-width="1.79"/>
<ellipse cx="844.0" cy="459.0" rx="3.4" ry="5.2" transform="rotate(24.8 844.0 459.0)" fill="#fff" stroke="#1c1c1c" stroke-width="1.79"/>
<path d="M766.1,486.1 L781.1,492.6 L782.9,488.5 L767.9,481.9 Z" fill="#fff" stroke="#1c1c1c" stroke-width="1.79" stroke-linejoin="round"/>
<line x1="768.1" y1="486.3" x2="770.1" y2="483.5" stroke="#1c1c1c" stroke-width="1.05"/>
<line x1="770.1" y1="487.2" x2="772.1" y2="484.4" stroke="#1c1c1c" stroke-width="1.05"/>
<line x1="772.1" y1="488.0" x2="774.1" y2="485.3" stroke="#1c1c1c" stroke-width="1.05"/>
<line x1="774.0" y1="488.9" x2="776.1" y2="486.1" stroke="#1c1c1c" stroke-width="1.05"/>
<rect x="781.1" y="485.7" width="4.6" height="10.8" rx="1.6" transform="rotate(23.6 783.4 491.1)" fill="#fff" stroke="#1c1c1c" stroke-width="1.79"/>
<ellipse cx="786.5" cy="492.5" rx="3.4" ry="5.2" transform="rotate(23.6 786.5 492.5)" fill="#fff" stroke="#1c1c1c" stroke-width="1.79"/>
<path d="M909.2,489.1 L931.1,497.8 L932.7,493.6 L910.8,484.9 Z" fill="#fff" stroke="#1c1c1c" stroke-width="1.79" stroke-linejoin="round"/>
<line x1="911.2" y1="489.3" x2="913.1" y2="486.4" stroke="#1c1c1c" stroke-width="1.05"/>
<line x1="913.2" y1="490.1" x2="915.1" y2="487.2" stroke="#1c1c1c" stroke-width="1.05"/>
<line x1="915.2" y1="490.9" x2="917.1" y2="488.0" stroke="#1c1c1c" stroke-width="1.05"/>
<line x1="917.2" y1="491.7" x2="919.2" y2="488.8" stroke="#1c1c1c" stroke-width="1.05"/>
<line x1="919.2" y1="492.5" x2="921.2" y2="489.6" stroke="#1c1c1c" stroke-width="1.05"/>
<line x1="921.2" y1="493.3" x2="923.2" y2="490.4" stroke="#1c1c1c" stroke-width="1.05"/>
<rect x="931.0" y="490.9" width="4.6" height="10.8" rx="1.6" transform="rotate(21.6 933.3 496.2)" fill="#fff" stroke="#1c1c1c" stroke-width="1.79"/>
<ellipse cx="936.5" cy="497.5" rx="3.4" ry="5.2" transform="rotate(21.6 936.5 497.5)" fill="#fff" stroke="#1c1c1c" stroke-width="1.79"/>
<path d="M893.1,532.1 L914.1,541.5 L915.9,537.4 L894.9,527.9 Z" fill="#fff" stroke="#1c1c1c" stroke-width="1.79" stroke-linejoin="round"/>
<line x1="895.1" y1="532.3" x2="897.2" y2="529.6" stroke="#1c1c1c" stroke-width="1.05"/>
<line x1="897.0" y1="533.2" x2="899.1" y2="530.5" stroke="#1c1c1c" stroke-width="1.05"/>
<line x1="899.0" y1="534.1" x2="901.1" y2="531.3" stroke="#1c1c1c" stroke-width="1.05"/>
<line x1="901.0" y1="535.0" x2="903.1" y2="532.2" stroke="#1c1c1c" stroke-width="1.05"/>
<line x1="903.0" y1="535.9" x2="905.0" y2="533.1" stroke="#1c1c1c" stroke-width="1.05"/>
<line x1="904.9" y1="536.8" x2="907.0" y2="534.0" stroke="#1c1c1c" stroke-width="1.05"/>
<rect x="914.1" y="534.7" width="4.6" height="10.8" rx="1.6" transform="rotate(24.3 916.4 540.1)" fill="#fff" stroke="#1c1c1c" stroke-width="1.79"/>
<ellipse cx="919.5" cy="541.5" rx="3.4" ry="5.2" transform="rotate(24.3 919.5 541.5)" fill="#fff" stroke="#1c1c1c" stroke-width="1.79"/>
<path d="M943.2,523.9 L959.9,530.7 L961.4,526.8 L944.8,520.1 Z" fill="#fff" stroke="#1c1c1c" stroke-width="1.79" stroke-linejoin="round"/>
<line x1="945.1" y1="524.1" x2="946.9" y2="521.5" stroke="#1c1c1c" stroke-width="1.05"/>
<line x1="947.0" y1="524.9" x2="948.8" y2="522.2" stroke="#1c1c1c" stroke-width="1.05"/>
<line x1="948.8" y1="525.7" x2="950.7" y2="523.0" stroke="#1c1c1c" stroke-width="1.05"/>
<line x1="950.7" y1="526.4" x2="952.5" y2="523.8" stroke="#1c1c1c" stroke-width="1.05"/>
<line x1="952.6" y1="527.2" x2="954.4" y2="524.5" stroke="#1c1c1c" stroke-width="1.05"/>
<rect x="959.8" y="524.2" width="4.4" height="10.2" rx="1.6" transform="rotate(22.0 962.0 529.3)" fill="#fff" stroke="#1c1c1c" stroke-width="1.79"/>
<ellipse cx="965.0" cy="530.5" rx="3.2" ry="4.9" transform="rotate(22.0 965.0 530.5)" fill="#fff" stroke="#1c1c1c" stroke-width="1.79"/>
<path d="M821.9,545.1 L844.6,553.8 L846.2,549.6 L823.5,540.9 Z" fill="#fff" stroke="#1c1c1c" stroke-width="1.79" stroke-linejoin="round"/>
<line x1="823.9" y1="545.3" x2="825.8" y2="542.4" stroke="#1c1c1c" stroke-width="1.05"/>
<line x1="825.9" y1="546.0" x2="827.8" y2="543.2" stroke="#1c1c1c" stroke-width="1.05"/>
<line x1="827.9" y1="546.8" x2="829.9" y2="543.9" stroke="#1c1c1c" stroke-width="1.05"/>
<line x1="830.0" y1="547.6" x2="831.9" y2="544.7" stroke="#1c1c1c" stroke-width="1.05"/>
<line x1="832.0" y1="548.4" x2="833.9" y2="545.5" stroke="#1c1c1c" stroke-width="1.05"/>
<line x1="834.0" y1="549.1" x2="835.9" y2="546.3" stroke="#1c1c1c" stroke-width="1.05"/>
<rect x="844.5" y="546.9" width="4.6" height="10.8" rx="1.6" transform="rotate(21.0 846.8 552.3)" fill="#fff" stroke="#1c1c1c" stroke-width="1.79"/>
<ellipse cx="850.0" cy="553.5" rx="3.4" ry="5.2" transform="rotate(21.0 850.0 553.5)" fill="#fff" stroke="#1c1c1c" stroke-width="1.79"/>
<path d="M844.4,541.1 L867.9,551.1 L869.6,547.0 L846.2,536.9 Z" fill="#fff" stroke="#1c1c1c" stroke-width="1.79" stroke-linejoin="round"/>
<line x1="846.4" y1="541.3" x2="848.4" y2="538.5" stroke="#1c1c1c" stroke-width="1.05"/>
<line x1="848.4" y1="542.2" x2="850.4" y2="539.4" stroke="#1c1c1c" stroke-width="1.05"/>
<line x1="850.4" y1="543.0" x2="852.4" y2="540.2" stroke="#1c1c1c" stroke-width="1.05"/>
<line x1="852.4" y1="543.9" x2="854.4" y2="541.1" stroke="#1c1c1c" stroke-width="1.05"/>
<line x1="854.4" y1="544.7" x2="856.4" y2="541.9" stroke="#1c1c1c" stroke-width="1.05"/>
<line x1="856.3" y1="545.6" x2="858.4" y2="542.8" stroke="#1c1c1c" stroke-width="1.05"/>
<line x1="858.3" y1="546.4" x2="860.4" y2="543.6" stroke="#1c1c1c" stroke-width="1.05"/>
<rect x="867.9" y="544.3" width="4.6" height="10.8" rx="1.6" transform="rotate(23.2 870.2 549.7)" fill="#fff" stroke="#1c1c1c" stroke-width="1.79"/>
<ellipse cx="873.3" cy="551.0" rx="3.4" ry="5.2" transform="rotate(23.2 873.3 551.0)" fill="#fff" stroke="#1c1c1c" stroke-width="1.79"/>
<ellipse cx="836.5" cy="485" rx="11.5" ry="16.2" transform="rotate(14 836.5 485)" fill="#fff" stroke="#111" stroke-width="2.53"/>
<ellipse cx="836.2" cy="485" rx="7.0" ry="11.8" transform="rotate(14 836.2 485)" fill="none" stroke="#111" stroke-width="2.30"/>
<ellipse cx="853.5" cy="492" rx="5.5" ry="12.5" transform="rotate(12 853.5 492)" fill="#fff" stroke="#1c1c1c" stroke-width="1.61"/>
<ellipse cx="857" cy="492" rx="5.5" ry="12.5" transform="rotate(12 857 492)" fill="#fff" stroke="#1c1c1c" stroke-width="1.61"/>
<ellipse cx="860.5" cy="492" rx="5.5" ry="12.5" transform="rotate(12 860.5 492)" fill="#fff" stroke="#1c1c1c" stroke-width="1.61"/>
<ellipse cx="864" cy="492" rx="5.5" ry="12.5" transform="rotate(12 864 492)" fill="#fff" stroke="#1c1c1c" stroke-width="1.61"/>
<ellipse cx="878" cy="496" rx="14.2" ry="18" transform="rotate(12 878 496)" fill="#fff" stroke="#111" stroke-width="2.07"/>
<path d="M876,486.5 L882.5,506.5" fill="none" stroke="#111" stroke-width="4.14" stroke-linejoin="round" stroke-linecap="round" />
<path d="M876.6,488 L881.8,505" fill="none" stroke="#fff" stroke-width="1.15" stroke-linejoin="round" stroke-linecap="round" />
<line x1="433" y1="73" x2="433" y2="100" stroke="#1c1c1c" stroke-width="1.84"/>
<line x1="482" y1="65" x2="482" y2="97" stroke="#1c1c1c" stroke-width="1.84"/>
<line x1="504" y1="109" x2="504" y2="128" stroke="#1c1c1c" stroke-width="1.84"/>
<line x1="607.3" y1="92.8" x2="607.3" y2="105.6" stroke="#1c1c1c" stroke-width="1.84"/>
<line x1="636" y1="118.5" x2="636" y2="133.5" stroke="#1c1c1c" stroke-width="1.84"/>
<line x1="645" y1="182.5" x2="663" y2="182.5" stroke="#1c1c1c" stroke-width="1.84"/>
<line x1="634" y1="219" x2="634" y2="240" stroke="#1c1c1c" stroke-width="1.84"/>
<line x1="557.3" y1="166.7" x2="557.3" y2="186" stroke="#1c1c1c" stroke-width="1.84"/>
<line x1="502.7" y1="257.3" x2="512" y2="246.7" stroke="#1c1c1c" stroke-width="1.84"/>
<line x1="459.2" y1="224" x2="459.2" y2="270.7" stroke="#1c1c1c" stroke-width="1.84"/>
<line x1="493.3" y1="233.3" x2="480" y2="249.3" stroke="#1c1c1c" stroke-width="1.84"/>
<line x1="441.5" y1="243.3" x2="441.5" y2="264.7" stroke="#1c1c1c" stroke-width="1.84"/>
<line x1="422" y1="291" x2="422" y2="296" stroke="#1c1c1c" stroke-width="1.84"/>
<line x1="473.5" y1="294" x2="473.5" y2="308.7" stroke="#1c1c1c" stroke-width="1.84"/>
<line x1="448.7" y1="332.7" x2="448.7" y2="350" stroke="#1c1c1c" stroke-width="1.84"/>
<line x1="529.6" y1="355" x2="529.6" y2="377.3" stroke="#1c1c1c" stroke-width="1.84"/>
<line x1="607.9" y1="301.3" x2="607.9" y2="317" stroke="#1c1c1c" stroke-width="1.84"/>
<line x1="556.5" y1="377.3" x2="556.5" y2="394.8" stroke="#1c1c1c" stroke-width="1.84"/>
<line x1="642" y1="293.4" x2="642" y2="307.6" stroke="#1c1c1c" stroke-width="1.84"/>
<line x1="689.5" y1="475" x2="689.5" y2="495" stroke="#1c1c1c" stroke-width="1.84"/>
<line x1="762" y1="165" x2="762" y2="182.5" stroke="#1c1c1c" stroke-width="1.84"/>
<line x1="814.3" y1="168.8" x2="814.3" y2="185.5" stroke="#1c1c1c" stroke-width="1.84"/>
<line x1="865.8" y1="167.5" x2="865.8" y2="181" stroke="#1c1c1c" stroke-width="1.84"/>
<line x1="897.5" y1="243.8" x2="897.5" y2="260" stroke="#1c1c1c" stroke-width="1.84"/>
<line x1="871" y1="325.5" x2="890.5" y2="325.5" stroke="#1c1c1c" stroke-width="1.84"/>
<line x1="889" y1="426" x2="907" y2="420" stroke="#1c1c1c" stroke-width="1.84"/>
<line x1="987.2" y1="402" x2="987.2" y2="422" stroke="#1c1c1c" stroke-width="1.84"/>
<line x1="801" y1="455.5" x2="815.3" y2="449.8" stroke="#1c1c1c" stroke-width="1.84"/>
<line x1="869" y1="462.6" x2="869" y2="475.3" stroke="#1c1c1c" stroke-width="1.84"/>
<line x1="832.3" y1="500.8" x2="832.3" y2="512.2" stroke="#1c1c1c" stroke-width="1.84"/>
<line x1="787" y1="498" x2="787" y2="508" stroke="#1c1c1c" stroke-width="1.84"/>
<line x1="940" y1="498" x2="955.2" y2="498" stroke="#1c1c1c" stroke-width="1.84"/>
<line x1="830.8" y1="549" x2="830.8" y2="566" stroke="#1c1c1c" stroke-width="1.84"/>
<line x1="872.8" y1="556" x2="872.8" y2="566" stroke="#1c1c1c" stroke-width="1.84"/>
<line x1="918.8" y1="548" x2="918.8" y2="562" stroke="#1c1c1c" stroke-width="1.84"/>
<line x1="964" y1="536" x2="964" y2="552" stroke="#1c1c1c" stroke-width="1.84"/>
<line x1="269" y1="259" x2="269" y2="289" stroke="#1c1c1c" stroke-width="1.84"/>
<line x1="359.8" y1="160" x2="359.8" y2="180" stroke="#1c1c1c" stroke-width="1.84"/>
<line x1="294.2" y1="133" x2="294.2" y2="152" stroke="#1c1c1c" stroke-width="1.84"/>
<line x1="222" y1="108.5" x2="222" y2="119.5" stroke="#1c1c1c" stroke-width="1.84"/>
<line x1="247.6" y1="113" x2="247" y2="124" stroke="#1c1c1c" stroke-width="1.84"/>
<line x1="188.7" y1="146.7" x2="188.7" y2="157.2" stroke="#1c1c1c" stroke-width="1.84"/>
<line x1="227.6" y1="162" x2="227.6" y2="193" stroke="#1c1c1c" stroke-width="1.84"/>
<line x1="251.7" y1="154.3" x2="248.8" y2="160.1" stroke="#1c1c1c" stroke-width="1.84"/>
<line x1="205.7" y1="176.5" x2="205.7" y2="182" stroke="#1c1c1c" stroke-width="1.84"/>
<text x="207" y="106.5" font-family='"Liberation Sans", sans-serif' font-size="25.5" fill="#151515">21</text>
<text x="237.5" y="106.5" font-family='"Liberation Sans", sans-serif' font-size="25.5" fill="#151515">22</text>
<text x="176.5" y="139.2" font-family='"Liberation Sans", sans-serif' font-size="25.5" fill="#151515">21</text>
<text x="249" y="150.5" font-family='"Liberation Sans", sans-serif' font-size="25.5" fill="#151515">22</text>
<text x="189" y="198.0" font-family='"Liberation Sans", sans-serif' font-size="25.5" fill="#151515">22</text>
<text x="211" y="215.5" font-family='"Liberation Sans", sans-serif' font-size="25.5" fill="#151515">21</text>
<text x="279" y="130.5" font-family='"Liberation Sans", sans-serif' font-size="25.5" fill="#151515">11</text>
<text x="344" y="153.5" font-family='"Liberation Sans", sans-serif' font-size="25.5" fill="#151515">13</text>
<text x="255" y="312.1" font-family='"Liberation Sans", sans-serif' font-size="25.5" fill="#151515">12</text>
<text x="597" y="86.9" font-family='"Liberation Sans", sans-serif' font-size="25.5" fill="#151515">17</text>
<text x="620.6" y="156.5" font-family='"Liberation Sans", sans-serif' font-size="25.5" fill="#151515">25</text>
<text x="668.6" y="189.5" font-family='"Liberation Sans", sans-serif' font-size="25.5" fill="#151515">3</text>
<text x="626.6" y="261.5" font-family='"Liberation Sans", sans-serif' font-size="25.5" fill="#151515">5</text>
<text x="548.3" y="160.5" font-family='"Liberation Sans", sans-serif' font-size="25.5" fill="#151515">16</text>
<text x="511" y="249.8" font-family='"Liberation Sans", sans-serif' font-size="25.5" fill="#151515">15</text>
<text x="443.8" y="220.5" font-family='"Liberation Sans", sans-serif' font-size="25.5" fill="#151515">23</text>
<text x="479" y="229.8" font-family='"Liberation Sans", sans-serif' font-size="25.5" fill="#151515">23</text>
<text x="423.5" y="240.5" font-family='"Liberation Sans", sans-serif' font-size="25.5" fill="#151515">33</text>
<text x="409" y="318.5" font-family='"Liberation Sans", sans-serif' font-size="25.5" fill="#151515">24</text>
<text x="461.8" y="333.2" font-family='"Liberation Sans", sans-serif' font-size="25.5" fill="#151515">24</text>
<text x="435.7" y="374.5" font-family='"Liberation Sans", sans-serif' font-size="25.5" fill="#151515">24</text>
<text x="519" y="400.0" font-family='"Liberation Sans", sans-serif' font-size="25.5" fill="#151515">14</text>
<text x="601.5" y="295.5" font-family='"Liberation Sans", sans-serif' font-size="25.5" fill="#151515">1</text>
<text x="550.8" y="415.9" font-family='"Liberation Sans", sans-serif' font-size="25.5" fill="#151515">1</text>
<text x="636.3" y="287.5" font-family='"Liberation Sans", sans-serif' font-size="25.5" fill="#151515">7</text>
<text x="684.8" y="518.8" font-family='"Liberation Sans", sans-serif' font-size="25.5" fill="#151515">2</text>
<text x="755.3" y="156.8" font-family='"Liberation Sans", sans-serif' font-size="25.5" fill="#151515">9</text>
<text x="806.5" y="160.5" font-family='"Liberation Sans", sans-serif' font-size="25.5" fill="#151515">8</text>
<text x="852.8" y="161.8" font-family='"Liberation Sans", sans-serif' font-size="25.5" fill="#151515">26</text>
<text x="881.5" y="238.0" font-family='"Liberation Sans", sans-serif' font-size="25.5" fill="#151515">32</text>
<text x="894" y="332.0" font-family='"Liberation Sans", sans-serif' font-size="25.5" fill="#151515">10</text>
<text x="907.5" y="426.5" font-family='"Liberation Sans", sans-serif' font-size="25.5" fill="#151515">28</text>
<text x="976.2" y="394.5" font-family='"Liberation Sans", sans-serif' font-size="25.5" fill="#151515">27</text>
<text x="770.3" y="465.9" font-family='"Liberation Sans", sans-serif' font-size="25.5" fill="#151515">32</text>
<text x="859.6" y="460.3" font-family='"Liberation Sans", sans-serif' font-size="25.5" fill="#151515">4</text>
<text x="825.6" y="532.5" font-family='"Liberation Sans", sans-serif' font-size="25.5" fill="#151515">6</text>
<text x="771.8" y="529.5" font-family='"Liberation Sans", sans-serif' font-size="25.5" fill="#151515">31</text>
<text x="957" y="502.5" font-family='"Liberation Sans", sans-serif' font-size="25.5" fill="#151515">30</text>
<text x="815.7" y="587.8" font-family='"Liberation Sans", sans-serif' font-size="25.5" fill="#151515">28</text>
<text x="858.2" y="587.8" font-family='"Liberation Sans", sans-serif' font-size="25.5" fill="#151515">28</text>
<text x="906.2" y="581.3" font-family='"Liberation Sans", sans-serif' font-size="25.5" fill="#151515">29</text>
<text x="955" y="572.5" font-family='"Liberation Sans", sans-serif' font-size="25.5" fill="#151515">27</text>
<text transform="translate(417.2,71.8) scale(0.93,1)" font-family='"Liberation Serif", serif' font-size="29" fill="#151515">18</text>
<text transform="translate(469,62.0) scale(0.93,1)" font-family='"Liberation Serif", serif' font-size="29" fill="#151515">20</text>
<text transform="translate(498,146.0) scale(0.93,1)" font-family='"Liberation Serif", serif' font-size="29" fill="#151515">19</text>
</svg></body></html>
